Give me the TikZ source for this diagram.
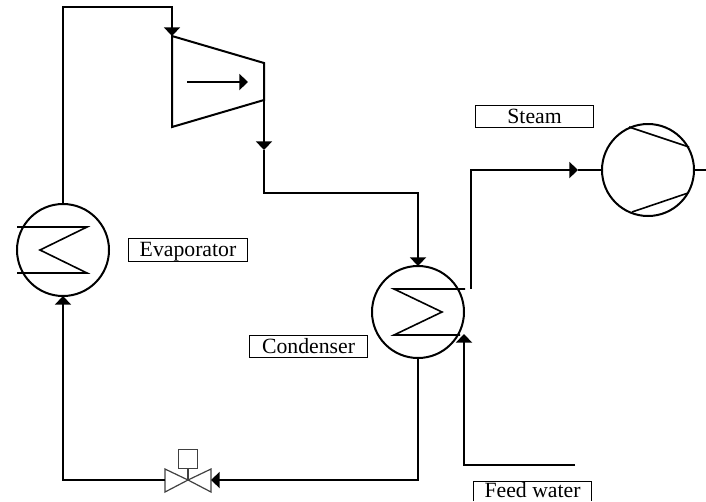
\documentclass[tikz,border=0pt]{standalone}
\usepackage{fontspec}
\setmainfont{Liberation Serif}
\usetikzlibrary{arrows.meta}
\tikzset{%
    main node/.style={circle,draw,minimum size=69pt,inner sep=0pt,outer sep=0pt},
    label text/.style={inner sep=0pt,outer sep=0pt,text height=11pt,text depth=1.2pt,
        font=\fontsize{16.3}{18}\selectfont},
    label box/.style={label text,draw,line width=.7pt,minimum width=89pt,minimum height=17pt},
    flow/.style={-{Triangle[length=6.5pt,width=12pt]}},
    coil/.style={line width=1.2pt},
    valve part/.style={line width=.9pt,draw=black!75}
}
\begin{document}
\begin{tikzpicture}[x=.75pt,y=-.75pt,line width=1.5pt,line join=miter]
  \useasboundingbox (0,0) rectangle (706,501);

  \node[main node] (evap) at (63,250) {};
  \node[main node] (cond) [right of=evap,node distance=266.25pt,yshift=-46.5pt] {};
  \node[main node] (comp) [right of=cond,node distance=172.5pt,yshift=106.5pt] {};

  \node[label box] (evaplabel) [right of=evap,node distance=93.75pt] {Evaporator};
  \node[label box] (condlabel) [left of=cond,node distance=82.1pt,yshift=-25.9pt] {Condenser};
  \node[label box] (steamlabel) [left of=comp,node distance=85.1pt,yshift=40.1pt] {Steam};
  % this box runs off the bottom of the page, only three sides show
  \node[label text,minimum width=89pt,minimum height=15pt] (feedlabel)
    [right of=cond,node distance=85.9pt,yshift=-134.25pt] {Feed water};
  \draw[line width=.7pt] (feedlabel.south west) -- (feedlabel.north west)
    -- (feedlabel.north east) -- (feedlabel.south east);

  % turbine
  \coordinate (t1) at (172,36);
  \coordinate (t2) at (264,63);
  \coordinate (t3) at (264,100);
  \coordinate (t4) at (172,127);
  \draw (t1) -- (t2) -- (t3) -- (t4) -- cycle;
  \coordinate (tin) at (187,82);
  \coordinate (tout) at (248,82);
  \draw[flow] (tin) -- (tout);

  % valve
  \coordinate (valve) at (188,480);
  \coordinate (vl) at (165,480);
  \coordinate (vr) at (211,480);
  \node[draw,valve part,minimum size=14.5pt,inner sep=0pt,outer sep=0pt] (actuator) at (188,459) {};
  \draw[valve part] (valve) -- (actuator.south);
  \draw[valve part] (valve) -- (165,469) -- (165,492) -- cycle;
  \draw[valve part] (valve) -- (211,469) -- (211,492) -- cycle;

  % coils
  \coordinate (e1) at (17,227);
  \coordinate (e2) at (17,273);
  \draw[coil] (e1) -- (87,227) -- (40,250) -- (87,273) -- (e2);
  \coordinate (c1) at (465,289);
  \coordinate (c2) at (460,335);
  \draw[coil] (c1) -- (394,289) -- (442,312) -- (394,335) -- (c2);
  \coordinate (r1) at (629,127);
  \coordinate (r2) at (689,147);
  \coordinate (r3) at (632,212);
  \coordinate (r4) at (688,193);
  \draw[coil] (r1) -- (r2);
  \draw[coil] (r3) -- (r4);

  % pipes
  \coordinate (a1) at (63,7);
  \coordinate (a2) at (172,7);
  \coordinate (a3) at (264,150);
  \coordinate (a4) at (264,193);
  \coordinate (a5) at (418,193);
  \coordinate (a6) at (418,480);
  \coordinate (a7) at (63,480);
  \coordinate (s1) at (471,289);
  \coordinate (s2) at (471,170);
  \coordinate (s3) at (578,170);
  \coordinate (f1) at (575,465);
  \coordinate (f2) at (464,465);
  \coordinate (f3) at (464,334);
  \coordinate (o1) at (706,170);

  \draw[flow] (evap.north) -- (a1) -- (a2) -- (t1);
  \draw[flow] (t3) -- (a3);
  \draw[flow] (a3) -- (a4) -- (a5) -- (cond.north);
  \draw[flow] (cond.south) -- (a6) -- (vr);
  \draw[flow] (vl) -- (a7) -- (evap.south);
  \draw[flow] (s1) -- (s2) -- (s3);
  \draw (s3) -- (comp.west);
  \draw (comp.east) -- (o1);
  \draw[flow] (f1) -- (f2) -- (f3);
\end{tikzpicture}
\end{document}
